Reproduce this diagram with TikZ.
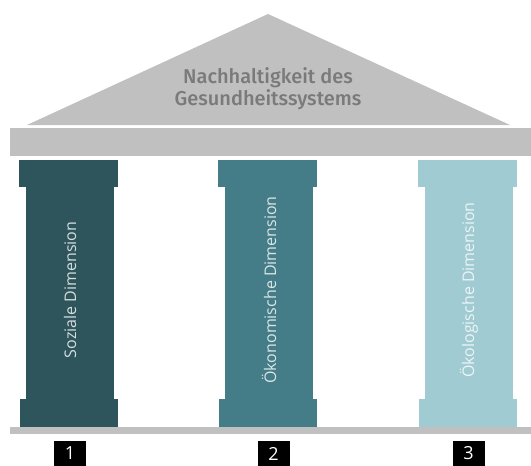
\documentclass[tikz,border=0pt]{standalone}
\usepackage{fontspec}
\setmainfont{Open Sans}
\newfontfamily\titlefont{Fira Sans Medium}

\definecolor{roofgrey}{HTML}{C0C0C0}
\definecolor{titlegrey}{HTML}{7A7A7A}
\definecolor{socialteal}{HTML}{2E555B}
\definecolor{economicteal}{HTML}{447D87}
\definecolor{ecologicteal}{HTML}{A0CBD2}

\begin{document}
\begin{tikzpicture}[x=1pt,y=-1pt]
    \useasboundingbox (0,0) rectangle (531,466);
    \begin{scope}[font=\fontsize{16}{18}\selectfont]
    % Roof:
    % A grey gable with the title in it, then the beam below
    \fill [roofgrey] (27,125) -- (268,14) -- (510,125) -- cycle;
    \node [text=titlegrey, align=center, inner sep=0pt, font=\titlefont\fontsize{20}{22}\selectfont] (title) at (268,89) {Nachhaltigkeit des\\Gesundheitssystems};
    \fill [roofgrey] (10,128) rectangle (531,156);

    % Floor:
    \fill [roofgrey] (10,427) rectangle (531,434);

    % Columns:
    % capital, shaft and base of each, the label turned upright, the number below
    \foreach \x/\col/\lbl/\n/\nx in {19/socialteal/Soziale Dimension/1/70,
                                      218/economicteal/Ökonomische Dimension/2/273.5,
                                      418/ecologicteal/Ökologische Dimension/3/468.5}{%
        \fill [\col] (\x,160) rectangle ++(99,27);
        \fill [\col] (\x+7,187) rectangle ++(88,212);
        \fill [\col] (\x+1,399) rectangle ++(98,28);
        \node [rotate=90, text=white, text opacity=0.8] (dim\n) at (\x+51,290) {\lbl};
        \node [fill=black, text=white, minimum width=32pt, minimum height=25pt, inner sep=0pt, font=\fontsize{18}{20}\selectfont] (num\n) at (\nx,453.5) {\n};
    }
    \end{scope}
\end{tikzpicture}
\end{document}
